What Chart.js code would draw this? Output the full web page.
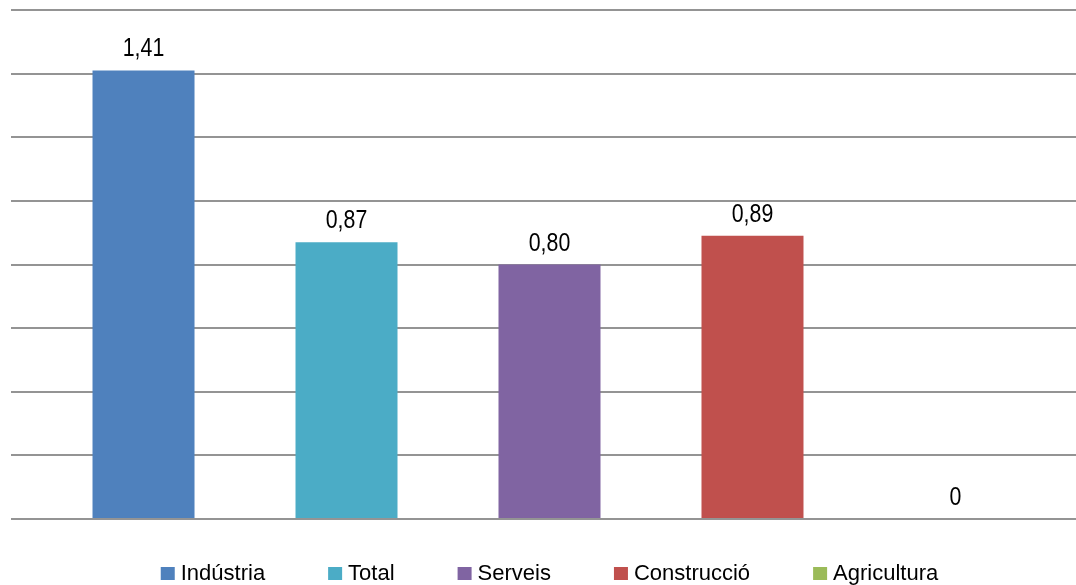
<!DOCTYPE html>
<html>
<head>
<meta charset="utf-8">
<title>Índex per sector</title>
<script src="https://cdn.jsdelivr.net/npm/chart.js"></script>
<style>
  html, body { margin: 0; padding: 0; background: #fff; overflow: hidden; }
  #wrap { position: relative; width: 1088px; height: 600px; }
</style>
</head>
<body>
<div id="wrap"><canvas id="chart"></canvas></div>
<script>
// Data
const sectors = ['Indústria', 'Total', 'Serveis', 'Construcció', 'Agricultura'];
const values = [1.41, 0.87, 0.80, 0.89, 0];
const colors = ['#4F81BD', '#4BACC6', '#8064A2', '#C0504D', '#9BBB59'];
const yMax = 1.6;
const yStep = 0.2;

const FONT = "'Liberation Sans', Arial, sans-serif";
const NARROW = 0.82; // horizontal squeeze for the value labels (Arial Narrow look)

// "1,41" style labels, plain "0" for zero
function formatValue(v) {
    return v === 0 ? '0' : v.toFixed(2).replace('.', ',');
}

// Value labels above each bar
const valueLabels = {
    id: 'valueLabels',
    afterDatasetsDraw(chart) {
        const ctx = chart.ctx;
        chart.data.datasets.forEach((ds, i) => {
            const meta = chart.getDatasetMeta(i);
            meta.data.forEach((bar, j) => {
                ctx.save();
                ctx.translate(bar.x, bar.y - 14);
                ctx.scale(NARROW, 1);
                ctx.font = '26px ' + FONT;
                ctx.fillStyle = '#000';
                ctx.textAlign = 'center';
                ctx.textBaseline = 'alphabetic';
                ctx.fillText(formatValue(ds.data[j]), 0, 0);
                ctx.restore();
            });
        });
    }
};

// Legend row under the plot: square swatch + name, centred on the plot
const bottomLegend = {
    id: 'bottomLegend',
    afterDraw(chart) {
        const ctx = chart.ctx;
        const area = chart.chartArea;
        const box = 14, boxH = 13, textGap = 6, itemGap = 63;
        const baseline = area.bottom + 61;
        ctx.save();
        ctx.font = '22px ' + FONT;
        const items = chart.data.datasets.map(ds => ({
            text: ds.label,
            color: ds.backgroundColor,
            width: box + textGap + ctx.measureText(ds.label).width
        }));
        const total = items.reduce((s, it) => s + it.width, 0) + itemGap * (items.length - 1);
        let x = (area.left + area.right) / 2 - total / 2;
        ctx.textBaseline = 'alphabetic';
        items.forEach(it => {
            ctx.fillStyle = it.color;
            ctx.fillRect(x, baseline - boxH, box, boxH);
            ctx.fillStyle = '#000';
            ctx.fillText(it.text, x + box + textGap, baseline);
            x += it.width + itemGap;
        });
        ctx.restore();
    }
};

const datasets = sectors.map((name, i) => ({
    label: name,
    data: [values[i]],
    backgroundColor: colors[i],
    borderWidth: 0,
    barPercentage: 0.5025,
    categoryPercentage: 0.9424
}));

new Chart(document.getElementById('chart'), {
    type: 'bar',
    data: { labels: [''], datasets: datasets },
    options: {
        responsive: true,
        maintainAspectRatio: false,
        animation: false,
        layout: { padding: { left: 11, right: 0, top: 10, bottom: 81 } },
        plugins: {
            legend: { display: false },
            tooltip: { enabled: false }
        },
        scales: {
            x: { display: false },
            y: {
                min: 0,
                max: yMax,
                ticks: { display: false, stepSize: yStep },
                grid: { color: '#949494', lineWidth: 2, drawTicks: false, tickLength: 0 },
                border: { display: false }
            }
        }
    },
    plugins: [valueLabels, bottomLegend]
});
</script>
</body>
</html>
